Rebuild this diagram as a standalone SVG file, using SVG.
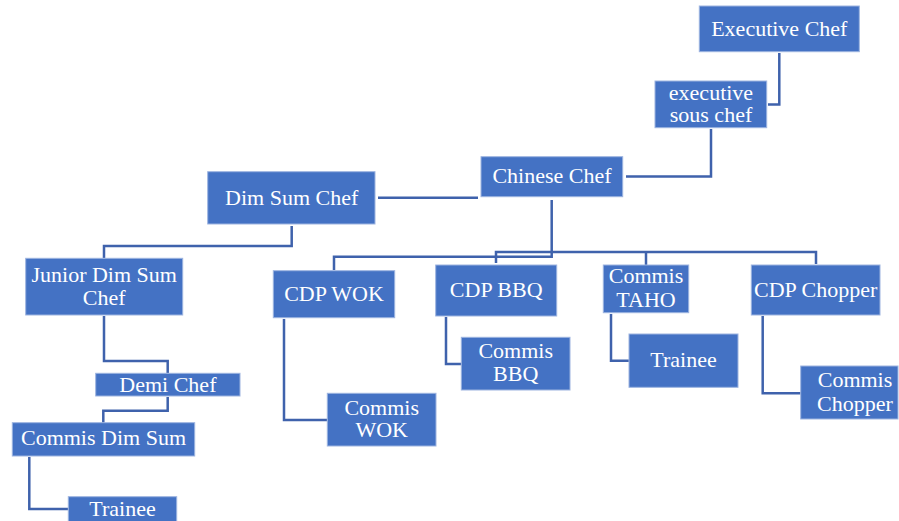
<svg xmlns="http://www.w3.org/2000/svg" width="899" height="521" viewBox="0 0 899 521">
<style>
.box{fill:#4472C4;stroke:#9DB4E0;stroke-width:1}
.t{font-family:"Liberation Serif","Times New Roman",serif;font-size:22px;fill:#ffffff;text-anchor:middle}
.c{fill:none;stroke:#3F62AC;stroke-width:2.5}
</style>
<rect width="899" height="521" fill="#ffffff"/>
<g id="connectors">
<polyline class="c" points="779.3,53 779.3,104.5 768,104.5"/>
<polyline class="c" points="711,129 711,176.5 626,176.5"/>
<polyline class="c" points="378,197.7 478,197.7"/>
<polyline class="c" points="551.7,200 551.7,256.7 334,256.7 334,270"/>
<polyline class="c" points="496,263 496,252 816,252 816,264"/>
<polyline class="c" points="646,252 646,265"/>
<polyline class="c" points="291.7,226 291.7,246 104,246 104,258"/>
<polyline class="c" points="104,316 104,361 167.7,361 167.7,373"/>
<polyline class="c" points="167.7,397 167.7,410.7 103.3,410.7 103.3,422.7"/>
<polyline class="c" points="29.3,457 29.3,509 68.3,509"/>
<polyline class="c" points="284,319 284,420 327,420"/>
<polyline class="c" points="446,317 446,364 461.3,364"/>
<polyline class="c" points="611,314 611,360.7 629,360.7"/>
<polyline class="c" points="762.7,316 762.7,393.3 800.7,393.3"/>
</g>
<g id="executive-chef"><rect class="box" x="699.3" y="6" width="160" height="45.7"/><text class="t" x="779.3" y="36">Executive Chef</text></g>
<g id="executive-sous-chef"><rect class="box" x="655" y="81" width="111.7" height="46.7"/><text class="t" x="711" y="99.5">executive</text><text class="t" x="711" y="122">sous chef</text></g>
<g id="chinese-chef"><rect class="box" x="481" y="156.7" width="141.7" height="40"/><text class="t" x="552" y="183">Chinese Chef</text></g>
<g id="dim-sum-chef"><rect class="box" x="207.7" y="171.7" width="167.3" height="52.3"/><text class="t" x="291.7" y="205">Dim Sum Chef</text></g>
<g id="junior-dim-sum-chef"><rect class="box" x="25.7" y="258.3" width="157" height="56.7"/><text class="t" x="104.2" y="282">Junior Dim Sum</text><text class="t" x="104.2" y="304.5">Chef</text></g>
<g id="demi-chef"><rect class="box" x="95.7" y="373.3" width="144.3" height="22.7"/><text class="t" x="167.9" y="391.7">Demi Chef</text></g>
<g id="commis-dim-sum"><rect class="box" x="12.3" y="422.7" width="182.4" height="33.3"/><text class="t" x="103.5" y="445">Commis Dim Sum</text></g>
<g id="trainee-dim-sum"><rect class="box" x="68.3" y="496.7" width="108.4" height="30"/><text class="t" x="122.5" y="516">Trainee</text></g>
<g id="cdp-wok"><rect class="box" x="273.3" y="270.7" width="121.4" height="47"/><text class="t" x="334" y="300.7">CDP WOK</text></g>
<g id="commis-wok"><rect class="box" x="327.3" y="393.3" width="108.7" height="52.7"/><text class="t" x="381.7" y="415">Commis</text><text class="t" x="381.7" y="437.3">WOK</text></g>
<g id="cdp-bbq"><rect class="box" x="435.7" y="265" width="121" height="51"/><text class="t" x="496.2" y="296.7">CDP BBQ</text></g>
<g id="commis-bbq"><rect class="box" x="461.3" y="337.3" width="108.7" height="52.7"/><text class="t" x="515.7" y="358.3">Commis</text><text class="t" x="515.7" y="381">BBQ</text></g>
<g id="commis-taho"><rect class="box" x="603.3" y="265" width="85.4" height="47.7"/><text class="t" x="646" y="283.3">Commis</text><text class="t" x="646" y="306.7">TAHO</text></g>
<g id="trainee-taho"><rect class="box" x="629" y="334" width="109" height="53.3"/><text class="t" x="683.5" y="367.3">Trainee</text></g>
<g id="cdp-chopper"><rect class="box" x="751.3" y="265" width="128.7" height="50"/><text class="t" x="815.7" y="296.7">CDP Chopper</text></g>
<g id="commis-chopper"><rect class="box" x="800.7" y="366" width="97.3" height="53"/><text class="t" x="855" y="386.7">Commis</text><text class="t" x="855" y="410.7">Chopper</text></g>
</svg>
